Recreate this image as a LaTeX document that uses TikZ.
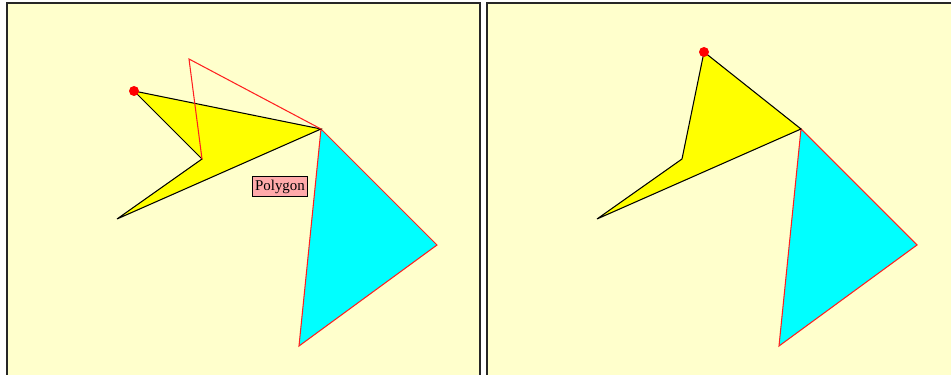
\documentclass[tikz,border=0pt]{standalone}
\usepackage{fontspec}
\setmainfont{Liberation Serif}
\usetikzlibrary{positioning}
\definecolor{panel-bg}{HTML}{FFFFCC}
\definecolor{kite-fill}{HTML}{FFFF00}
\definecolor{wedge-fill}{HTML}{00FFFF}
\definecolor{ghost-red}{HTML}{FF2020}
\definecolor{tag-fill}{HTML}{FFAAAA}
\tikzset{
  panel-frame/.style={draw=black!85, line width=1.1pt},
  kite-shape/.style={draw=black, fill=kite-fill, line width=0.6pt, line join=miter},
  wedge-shape/.style={draw=ghost-red, fill=wedge-fill, line width=0.6pt},
  ghost-edge/.style={draw=ghost-red, line width=0.6pt},
  vertex-dot/.style={circle, fill=red, inner sep=0pt, minimum size=0.2cm},
  tag-box/.style={draw=black, fill=tag-fill, line width=0.6pt, inner sep=1.5pt,
    minimum height=0.4cm, font=\fontsize{8.5}{9}\selectfont}
}

\begin{document}
\begin{tikzpicture}[x=0.02cm, y=-0.02cm]
  \useasboundingbox (0,0) rectangle (951,375);
  \fill[white] (0,0) rectangle (951,375);
  % left panel
  \fill[panel-bg] (7,3) rectangle (480,376);
  \draw[panel-frame] (7,377) -- (7,3) -- (480,3) -- (480,377);
  \coordinate (lhead) at (134,91);
  \coordinate (ltip) at (321,129);
  \coordinate (ltail) at (117,219);
  \coordinate (lnotch) at (202,159);
  \coordinate (lapex) at (189,59);
  \coordinate (lright) at (437,245);
  \coordinate (lfoot) at (299,346);
  \filldraw[wedge-shape] (ltip) -- (lright) -- (lfoot) -- cycle;
  \filldraw[kite-shape] (lhead) -- (ltip) -- (ltail) -- (lnotch) -- cycle;
  \draw[ghost-edge] (lnotch) -- (lapex) -- (ltip);
  \node[vertex-dot] (ldot) at (lhead) {};
  \node[tag-box] (ltag) at (280,186.5) {Polygon};
  % right panel
  \fill[panel-bg] (487,3) rectangle (952,376);
  \draw[panel-frame] (487,377) -- (487,3) -- (952,3);
  \coordinate (rhead) at (704,52);
  \coordinate (rtip) at (801,129);
  \coordinate (rtail) at (597,219);
  \coordinate (rnotch) at (682,159);
  \coordinate (rright) at (917,245);
  \coordinate (rfoot) at (779,346);
  \filldraw[wedge-shape] (rtip) -- (rright) -- (rfoot) -- cycle;
  \filldraw[kite-shape] (rhead) -- (rtip) -- (rtail) -- (rnotch) -- cycle;
  \node[vertex-dot] (rdot) at (rhead) {};
\end{tikzpicture}
\end{document}
